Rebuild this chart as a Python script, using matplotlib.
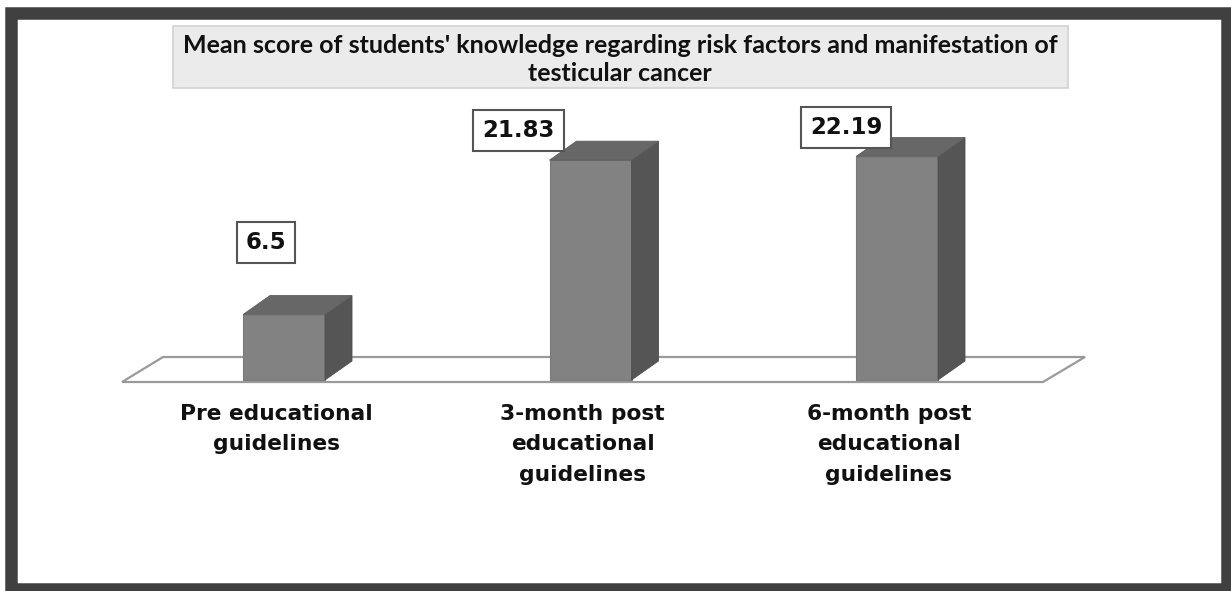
import matplotlib
matplotlib.use("Agg")
import matplotlib.pyplot as plt
from matplotlib.patches import Polygon, Rectangle

# ---- data ----
categories = ["Pre educational\nguidelines",
              "3-month post\neducational\nguidelines",
              "6-month post\neducational\nguidelines"]
values = [6.5, 21.83, 22.19]
value_labels = ["6.5", "21.83", "22.19"]
title = "Mean score of students' knowledge regarding risk factors and manifestation of\ntesticular cancer"

# ---- layout (pixels) ----
W, H = 1231, 591
X0, XSTEP = 284, 306.5        # pixel x of first category, spacing
BASE, K = 380, 10.07          # pixel y of baseline, px per unit
BAR_W = 82
DEPTH_X, DEPTH_Y = 27, 19
label_off = [(-18, 72), (-72, 30), (-51, 29)]  # value-label box offsets (px)

fig = plt.figure(figsize=(W / 100, H / 100), dpi=100)
fig.patch.set_facecolor("white")
ax = fig.add_axes([0, 0, 1, 1])
ax.set_xlim(-X0 / XSTEP, (W - X0) / XSTEP)
ax.set_ylim(-(H - BASE) / K, BASE / K)
ax.axis("off")

def dx(p):
    return p / XSTEP

def dy(p):
    return p / K

# outer frame
fig.patches.append(Rectangle((11 / W, 1 - 589 / H), (1227 - 11) / W, (589 - 13) / H,
                             transform=fig.transFigure, fill=False,
                             edgecolor="#404040", linewidth=9, zorder=0))

# title box
fig.patches.append(Rectangle((173 / W, 1 - 88 / H), (1068 - 173) / W, (88 - 26) / H,
                             transform=fig.transFigure, facecolor="#ebebeb",
                             edgecolor="#d2d2d2", linewidth=1.2, zorder=1))
fig.text(620 / W, 1 - 59.5 / H, title, ha="center", va="center",
         fontsize=18, fontweight="bold",
         family=["Lato", "DejaVu Sans"],
         linespacing=1.3, color="#111111", zorder=2)

# floor parallelogram
fl_left, fl_right = dx(122 - X0), dx(1043 - X0)
fl_front = dy(-2)
floor = Polygon([(fl_left, fl_front), (fl_right, fl_front),
                 (fl_right + dx(42), fl_front + dy(25)),
                 (fl_left + dx(41), fl_front + dy(25))],
                closed=True, facecolor="white", edgecolor="#9a9a9a",
                linewidth=1.6, zorder=1)
ax.add_patch(floor)

xs = list(range(len(values)))
w = dx(BAR_W)
ax.bar(xs, values, width=w, color="#828282", edgecolor="#7a7a7a",
       linewidth=0.8, zorder=3)
for x, v in zip(xs, values):
    r = x + w / 2
    l = x - w / 2
    side = Polygon([(r, 0), (r + dx(DEPTH_X), dy(DEPTH_Y)),
                    (r + dx(DEPTH_X), v + dy(DEPTH_Y)), (r, v)],
                   closed=True, facecolor="#555555", edgecolor="#505050",
                   linewidth=0.6, zorder=3)
    top = Polygon([(l, v), (l + dx(DEPTH_X), v + dy(DEPTH_Y)),
                   (r + dx(DEPTH_X), v + dy(DEPTH_Y)), (r, v)],
                  closed=True, facecolor="#676767", edgecolor="#5e5e5e",
                  linewidth=0.6, zorder=3)
    ax.add_patch(side)
    ax.add_patch(top)

# value labels
for x, v, lab, (ox, oy) in zip(xs, values, value_labels, label_off):
    ax.text(x + dx(ox), v + dy(oy), lab, ha="center", va="center",
            fontsize=16.5, fontweight="bold", family="DejaVu Sans",
            color="#111111", zorder=5,
            bbox=dict(boxstyle="square,pad=0.4", facecolor="white",
                      edgecolor="#555555", linewidth=1.5))

# category labels
for x, c in zip(xs, categories):
    ax.text(x + dx(-8), dy(-24), c, ha="center", va="top",
            fontsize=15.7, fontweight="bold", family="DejaVu Sans",
            color="#111111", linespacing=1.65, zorder=5)

fig.savefig("out.png", dpi=100, facecolor="white")
